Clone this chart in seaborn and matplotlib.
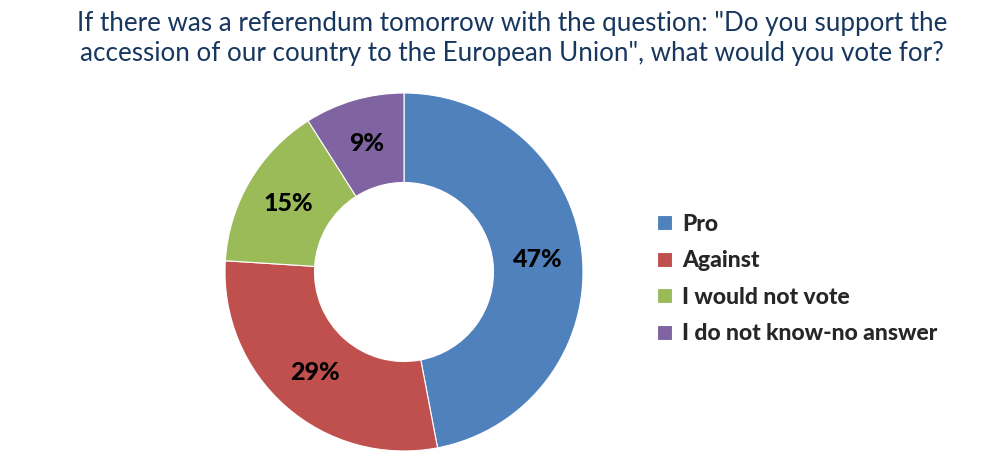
import matplotlib
matplotlib.use("Agg")
import matplotlib.pyplot as plt
import numpy as np
import seaborn as sns

labels = ["Pro", "Against", "I would not vote", "I do not know-no answer"]
values = [47, 29, 15, 9]
colors = ["#4F81BD", "#C0504D", "#9BBB59", "#8064A2"]
title = ('If there was a referendum tomorrow with the question: "Do you support the\n'
         'accession of our country to the European Union", what would you vote for?')

sns.set_theme(style="white")
plt.rcParams["font.family"] = ["Lato", "DejaVu Sans"]

fig = plt.figure(figsize=(10, 4.69), dpi=100)
ax = fig.add_axes([0.225, 0.0384, 0.358, 0.7633])

wedges, texts = ax.pie(values, colors=sns.color_palette(colors), startangle=90,
                       counterclock=False, radius=1,
                       wedgeprops=dict(width=0.5, edgecolor="white", linewidth=0.8))

# percentage labels in the middle of the ring
for w, v in zip(wedges, values):
    ang = np.deg2rad((w.theta1 + w.theta2) / 2)
    ax.text(0.75 * np.cos(ang), 0.75 * np.sin(ang), f"{v}%", ha="center", va="center",
            fontsize=18, fontweight="black", color="black")

ax.set_xlim(-1, 1)
ax.set_ylim(-1, 1)
ax.set_aspect("equal")
ax.axis("off")

fig.text(0.512, 0.976, title, ha="center", va="top", fontsize=18.7, color="#17375E",
         linespacing=1.25)

fig.legend(wedges, labels, loc="center left", bbox_to_anchor=(0.636, 0.405),
           frameon=False, handlelength=0.65, handleheight=0.65, handletextpad=0.45,
           labelspacing=0.68, prop=dict(size=16.5, weight="black"))

fig.savefig("out.png", dpi=100)
